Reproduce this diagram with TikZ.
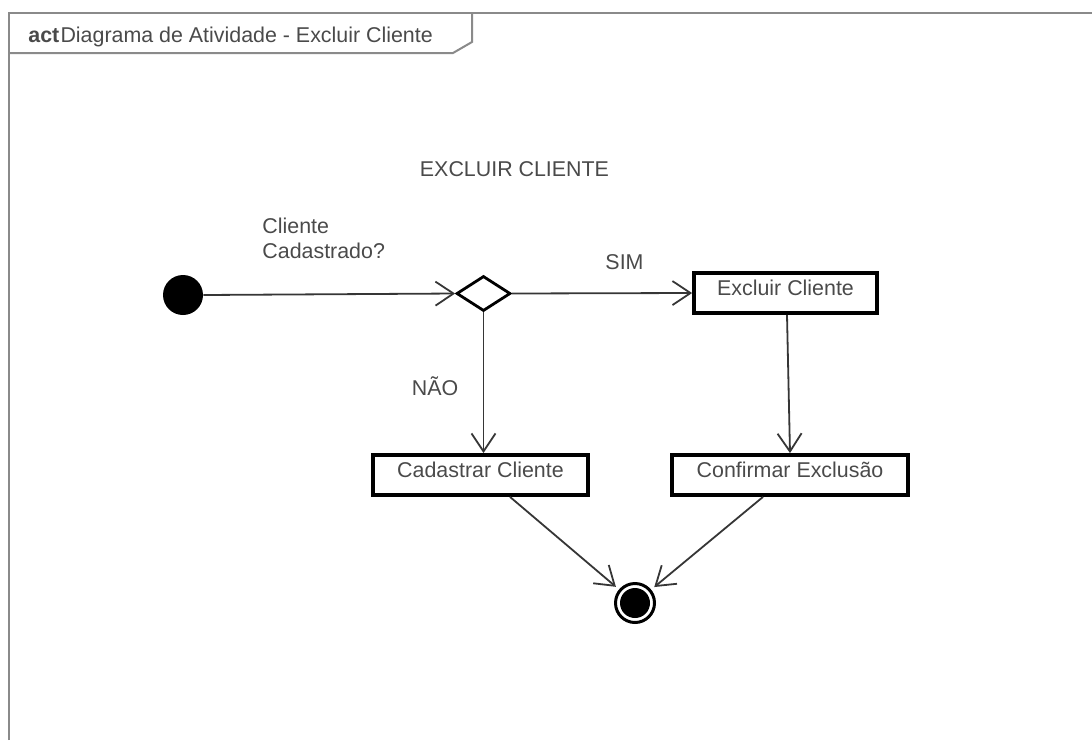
\documentclass[tikz,border=0pt]{standalone}
\usepackage{fontspec}
\setmainfont{Liberation Sans}
\usetikzlibrary{arrows.meta,shapes.geometric}

\definecolor{txtgray}{HTML}{4A4A4A}
\definecolor{framegray}{HTML}{8A8A8A}
\definecolor{linegray}{HTML}{363636}

\tikzset{
  umltext/.style={text=txtgray, font=\fontsize{10.7pt}{12.5pt}\selectfont, inner sep=0pt},
  action/.style={draw=black, line width=1.9pt, rectangle, minimum height=20pt,
    inner xsep=0pt, inner ysep=0pt, text height=11pt, text depth=9pt, umltext},
  flow/.style={draw=linegray, line width=0.9pt,
    -{Straight Barb[length=9pt,width=12pt,line width=0.9pt]}},
  frameline/.style={draw=framegray, line width=1pt},
}

\begin{document}
\begin{tikzpicture}[x=0.5pt,y=-0.5pt]
\useasboundingbox (0,0) rectangle (1092,740);

% diagram frame and its name tab
\coordinate (fbl) at (9,740);
\coordinate (ftl) at (9,13);
\coordinate (ftr) at (1092,13);
\draw[frameline] (fbl) -- (ftl) -- (ftr);
\draw[frameline] (472,13) -- (472,42) -- (453,53) -- (9,53);
\node[umltext, anchor=base west] (title) at (28,42)
  {\textbf{act}\hspace{0.6pt}Diagrama de Atividade - Excluir Cliente};

% heading
\node[umltext, anchor=base] (heading) at (514.5,176) {EXCLUIR CLIENTE};

% nodes
\node[circle, fill=black, minimum size=20pt, inner sep=0pt] (init) at (183,295) {};
\node[diamond, draw=black, line width=1.4pt, minimum width=27pt, minimum height=17.5pt,
  inner sep=0pt] (dec) at (483.5,293.5) {};
\node[umltext, anchor=north west, align=left] (question) at (262,217.5)
  {Cliente\\Cadastrado?};

\node[action, minimum width=91.5pt] (excl) at (785.5,293) {Excluir Cliente};
\node[action, minimum width=107.5pt] (cad) at (480.5,475) {Cadastrar Cliente};
\node[action, minimum width=118pt] (conf) at (790,475) {Confirmar Exclusão};

\node[circle, draw=black, line width=1.5pt, minimum size=19.5pt, inner sep=0pt] (fin) at (635,603) {};
\node[circle, fill=black, minimum size=15pt, inner sep=0pt] (fincore) at (fin.center) {};

% guard labels
\node[umltext, anchor=base] (sim) at (624.5,269) {SIM};
\node[umltext, anchor=base] (nao) at (435,395) {NÃO};

% control flows
\draw[flow] (init.east) -- (dec.west);
\draw[flow] (dec.east) -- (excl.west);
\draw[flow] (dec.south) -- (dec.south |- cad.north);
\draw[flow] ([xshift=0.75pt]excl.south) -- (conf.north);
\draw[flow, shorten >=2pt] ([xshift=14.75pt]cad.south) -- (fin);
\draw[flow, shorten >=2pt] ([xshift=-13.5pt]conf.south) -- (fin);
\end{tikzpicture}
\end{document}
